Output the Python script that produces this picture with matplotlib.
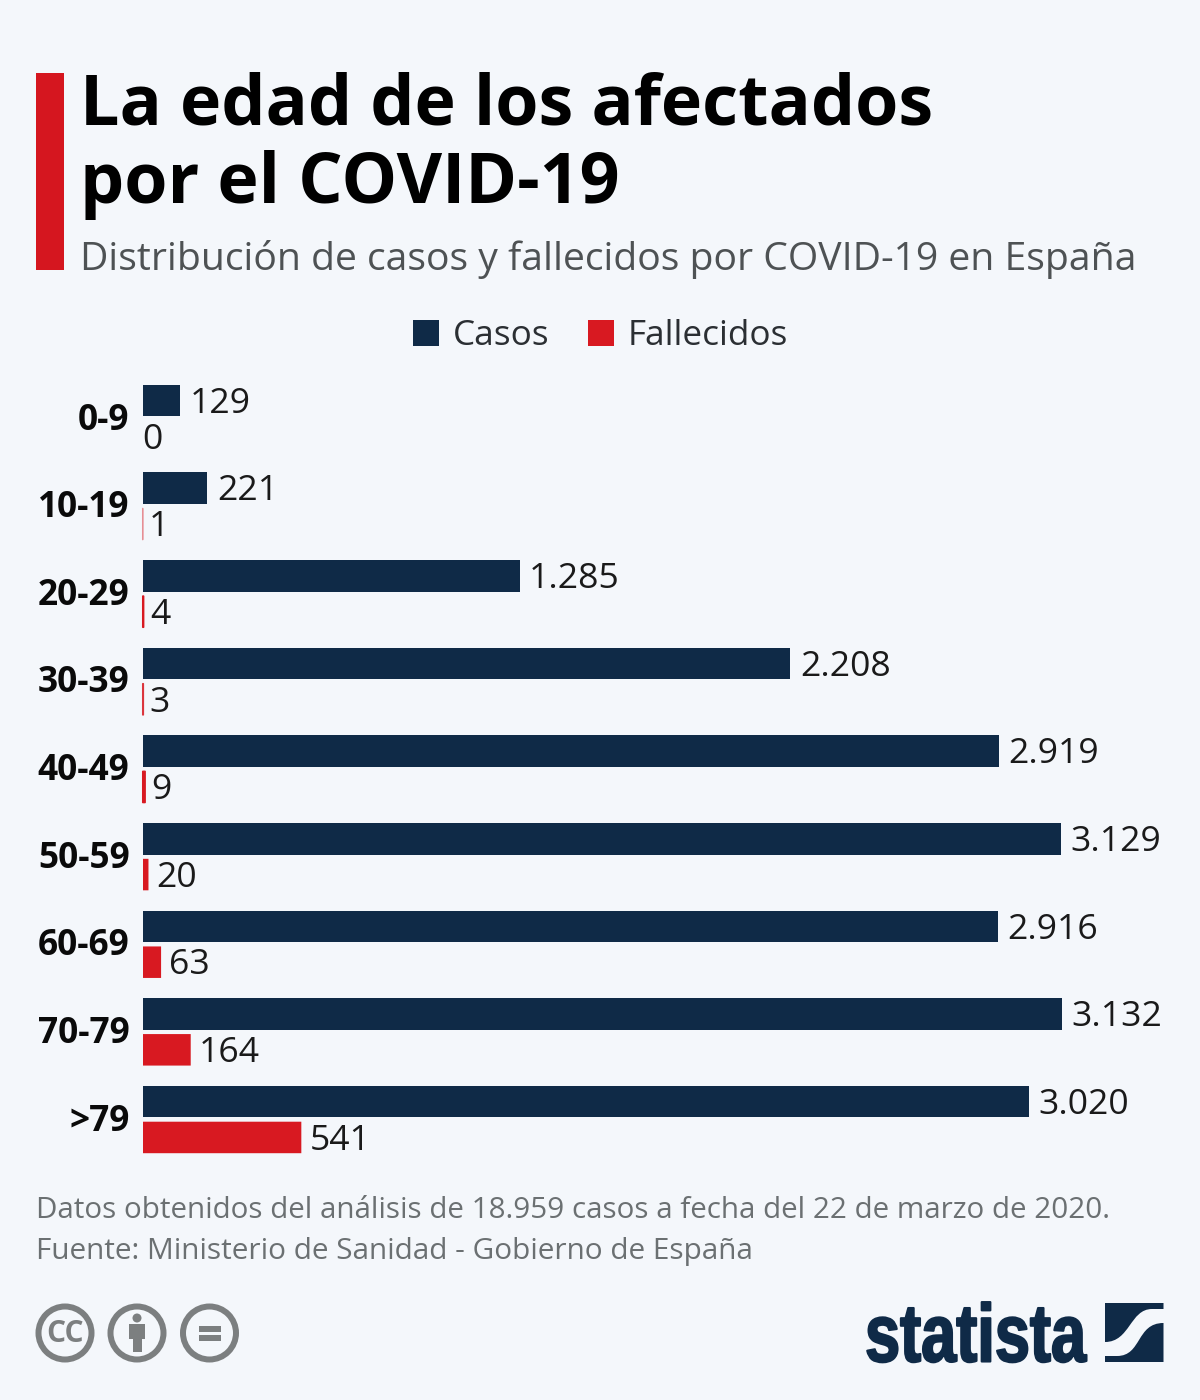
import numpy as np
import matplotlib as mpl
mpl.use("Agg")
import matplotlib.pyplot as plt
from matplotlib.patches import Rectangle, Circle, PathPatch
from matplotlib.patheffects import AbstractPathEffect
from matplotlib.path import Path
from matplotlib.transforms import Affine2D, ScaledTranslation

age_groups = ["0-9", "10-19", "20-29", "30-39", "40-49", "50-59", "60-69", "70-79", ">79"]
casos = [129, 221, 1285, 2208, 2919, 3129, 2916, 3132, 3020]
fallecidos = [0, 1, 4, 3, 9, 20, 63, 164, 541]
casos_labels = ["129", "221", "1.285", "2.208", "2.919", "3.129", "2.916", "3.132", "3.020"]
fallecidos_labels = ["0", "1", "4", "3", "9", "20", "63", "164", "541"]

NAVY = "#0f2a47"
RED = "#d81921"
BG = "#f4f7fb"
GREY = "#7c7f80"

W, H = 1200, 1400
plt.rcParams["font.family"] = ["Open Sans", "DejaVu Sans"]


def px(size):
    return size * 0.72


class Squeeze(AbstractPathEffect):
    # no condensed bold font here, so narrow the wordmark while it is drawn
    def __init__(self, sx, x0, stroke):
        super().__init__()
        self.sx = sx
        self.x0 = x0
        self.stroke = stroke

    def draw_path(self, renderer, gc, tpath, affine, rgbFace=None):
        squeezed = affine + Affine2D().translate(-self.x0, 0).scale(self.sx, 1).translate(self.x0, 0)
        gc0 = renderer.new_gc()
        gc0.copy_properties(gc)
        gc0.set_linewidth(self.stroke)
        gc0.set_foreground(rgbFace)
        renderer.draw_path(gc0, tpath, squeezed, rgbFace)
        gc0.restore()


fig = plt.figure(figsize=(12, 14), dpi=100, facecolor=BG)

# overlay in pixel coordinates for the title block, footer and logos
over = fig.add_axes([0, 0, 1, 1], zorder=2)
over.set_xlim(0, W)
over.set_ylim(H, 0)
over.axis("off")
over.patch.set_alpha(0)

# bars
left, right = 142.6, 1061.5
top, row = 374.7, 87.63
ax = fig.add_axes([left / W, 1 - (top + 9 * row) / H, (right - left) / W, 9 * row / H], zorder=3)
ax.patch.set_alpha(0)
y = np.arange(len(age_groups))
bar_h = 31.5 / row
off = 17.9 / row
ax.barh(y - off, casos, height=bar_h, color=NAVY, linewidth=0)
red_bars = ax.barh(y + off, fallecidos, height=bar_h, color=RED, linewidth=0)
for bar, v in zip(red_bars, fallecidos):
    bar.set_snap(False)
    if 0 < v < 10:
        # tiny values still show as a hairline in the reference
        bar.set_clip_on(False)
        bar.set_edgecolor(RED)
        bar.set_linewidth(0.9)
        bar.set_alpha(0.4 if v == 1 else 0.8 if v == 3 else 1)
ax.set_xlim(0, 3132)
ax.set_ylim(len(age_groups) - 0.5, -0.5)
ax.set_xticks([])
ax.set_yticks(y)
ax.set_yticklabels(age_groups, fontsize=px(35.2), fontweight="bold", color="#0a0a0a")
ax.tick_params(axis="y", length=0, pad=px(13))
lift = ScaledTranslation(0, 2.5 / 100, fig.dpi_scale_trans)
for lab in ax.get_yticklabels():
    lab.set_transform(lab.get_transform() + lift)
for s in ax.spines.values():
    s.set_visible(False)

for i in y:
    ax.annotate(casos_labels[i], (casos[i], i - off), xytext=(px(9.5), px(0.8)), textcoords="offset points",
                va="center_baseline", ha="left", fontsize=px(35.5), color="#1a1a1a", annotation_clip=False)
    pad = px(8) if fallecidos[i] >= 10 else px(6) if fallecidos[i] > 0 else 0
    ax.annotate(fallecidos_labels[i], (fallecidos[i], i + off), xytext=(pad, px(0.8)), textcoords="offset points",
                va="center_baseline", ha="left", fontsize=px(35.5), color="#1a1a1a", annotation_clip=False)

# title block
over.add_patch(Rectangle((36, 73), 28, 197, color="#d5161f", lw=0))
over.text(80, 124.5, "La edad de los afectados", fontsize=px(70), fontweight="bold", color="#000000", va="baseline")
over.text(80, 202.5, "por el COVID-19", fontsize=px(70), fontweight="bold", color="#000000", va="baseline")
over.text(80, 270, "Distribución de casos y fallecidos por COVID-19 en España", fontsize=px(39.15),
          color="#4e5254", va="baseline")

# legend
over.add_patch(Rectangle((413, 320), 26, 26, color=NAVY, lw=0))
over.text(453, 345, "Casos", fontsize=px(35.1), color="#2b2f33", va="baseline")
over.add_patch(Rectangle((588, 320), 26, 26, color=RED, lw=0))
over.text(628, 345, "Fallecidos", fontsize=px(35.1), color="#2b2f33", va="baseline")

# footer
over.text(36, 1217.5, "Datos obtenidos del análisis de 18.959 casos a fecha del 22 de marzo de 2020.",
          fontsize=px(29.6), color="#6b7072", va="baseline")
over.text(36, 1259.5, "Fuente: Ministerio de Sanidad - Gobierno de España",
          fontsize=px(29.7), color="#6b7072", va="baseline")

# cc icons
for cx in (65, 137, 209.5):
    over.add_patch(Circle((cx, 1333), 26.5, fill=False, ec=GREY, lw=px(6)))
over.text(65, 1334, "CC", fontsize=px(30), fontweight="bold", color=GREY, ha="center", va="center")
over.add_patch(Circle((137, 1318), 4.5, color=GREY, lw=0))
over.add_patch(Rectangle((129, 1324), 16, 15, color=GREY, lw=0))
over.add_patch(Rectangle((132.5, 1338), 9, 14, color=GREY, lw=0))
over.add_patch(Rectangle((199, 1326), 22, 5.5, color=GREY, lw=0))
over.add_patch(Rectangle((199, 1335), 22, 5.5, color=GREY, lw=0))

# statista logo
over.text(865, 1361.5, "statista", fontsize=px(82), fontweight="bold", color=NAVY, va="baseline",
          family="Liberation Sans", path_effects=[Squeeze(0.77, 865, 1.5)])
codes_m = [Path.MOVETO, Path.LINETO, Path.LINETO, Path.LINETO, Path.CURVE4, Path.CURVE4, Path.CURVE4,
           Path.LINETO, Path.CLOSEPOLY]
upper = Path([(1105, 1303), (1163.5, 1303), (1163.5, 1309), (1152, 1309), (1130, 1309), (1130, 1342),
              (1105, 1342), (1105, 1342), (1105, 1303)], codes_m)
lower = Path([(1163.5, 1362), (1105, 1362), (1105, 1356), (1117, 1356), (1142, 1356), (1136, 1323),
              (1163.5, 1323), (1163.5, 1323), (1163.5, 1362)], codes_m)
over.add_patch(PathPatch(upper, fc=NAVY, lw=0))
over.add_patch(PathPatch(lower, fc=NAVY, lw=0))

fig.savefig("out.png", dpi=100, facecolor=BG)
